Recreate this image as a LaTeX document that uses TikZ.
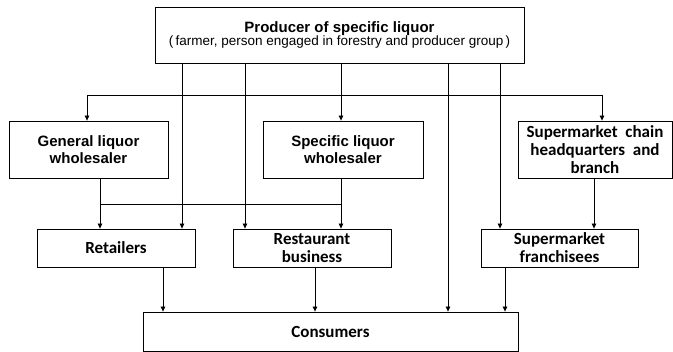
\documentclass[tikz,border=0pt]{standalone}
\usepackage{fontspec}
\setmainfont{Carlito}
\newfontfamily\arialfont{Liberation Sans}
\usetikzlibrary{arrows.meta}

\tikzset{
	box/.style={draw, line width=0.8pt, align=center, inner sep=0pt},
	headfont/.style={font=\arialfont\fontsize{15}{17}\selectfont\bfseries},
	bodyfont/.style={font=\fontsize{17}{18}\selectfont\bfseries},
}

\begin{document}
\begin{tikzpicture}[x=1pt,y=-1pt,line width=0.8pt,>={Triangle[length=5pt,width=4.5pt]}]
		\useasboundingbox (0,0) rectangle (673,352);
		%
		\node[box,minimum width=369pt,minimum height=56pt] (P) at (339.5,35)
			{{\arialfont\fontsize{15}{18}\selectfont\bfseries Producer of specific liquor}\\
			{\arialfont\fontsize{13.5}{16}\selectfont (\,farmer, person engaged in forestry and producer group\,)}};
		\node[box,headfont,minimum width=159pt,minimum height=57pt] (G) at (88.5,149.5) {General liquor\\wholesaler};
		\node[box,headfont,minimum width=160pt,minimum height=57pt] (S) at (343,149.5) {Specific liquor\\wholesaler};
		\node[box,bodyfont,minimum width=154pt,minimum height=57pt] (M) at (595,149.5) {Supermarket\ \ chain\\headquarters\ \ and\\branch};
		\node[box,bodyfont,minimum width=158pt,minimum height=38pt] (R) at (116,248) {Retailers};
		\node[box,bodyfont,minimum width=158pt,minimum height=38pt] (T) at (312,248) {Restaurant\\business};
		\node[box,bodyfont,minimum width=157pt,minimum height=38pt] (F) at (559.5,248) {Supermarket\\franchisees};
		\node[box,bodyfont,minimum width=375pt,minimum height=39pt] (C) at (330.5,331.5) {Consumers};
		%
		\coordinate (p1) at (182,63);
		\coordinate (p2) at (245,63);
		\coordinate (p3) at (341,63);
		\coordinate (p4) at (448,63);
		\coordinate (p5) at (500,63);
		\coordinate (b1) at (87,95);
		\coordinate (b2) at (602,95);
		\coordinate (w1) at (100,204);
		\coordinate (w2) at (341,204);
		\coordinate (m1) at (594,0);
		\coordinate (c1) at (163,0);
		\coordinate (c2) at (315,0);
		\coordinate (c3) at (505,0);
		%
		\draw[->] (p1) -- (p1 |- R.north);
		\draw[->] (p2) -- (p2 |- T.north);
		\draw[->] (p3) -- (p3 |- S.north);
		\draw[->] (p4) -- (p4 |- C.north);
		\draw[->] (p5) -- (p5 |- F.north);
		\draw (b1) -- (b2);
		\draw[->] (b1) -- (b1 |- G.north);
		\draw[->] (b2) -- (b2 |- M.north);
		%
		\draw (w1) -- (w2);
		\draw[->] (G.south -| w1) -- (w1 |- R.north);
		\draw[->] (S.south -| w2) -- (w2 |- T.north);
		\draw[->] (M.south -| m1) -- (m1 |- F.north);
		%
		\draw[->] (R.south -| c1) -- (c1 |- C.north);
		\draw[->] (T.south -| c2) -- (c2 |- C.north);
		\draw[->] (F.south -| c3) -- (c3 |- C.north);
\end{tikzpicture}
\end{document}
